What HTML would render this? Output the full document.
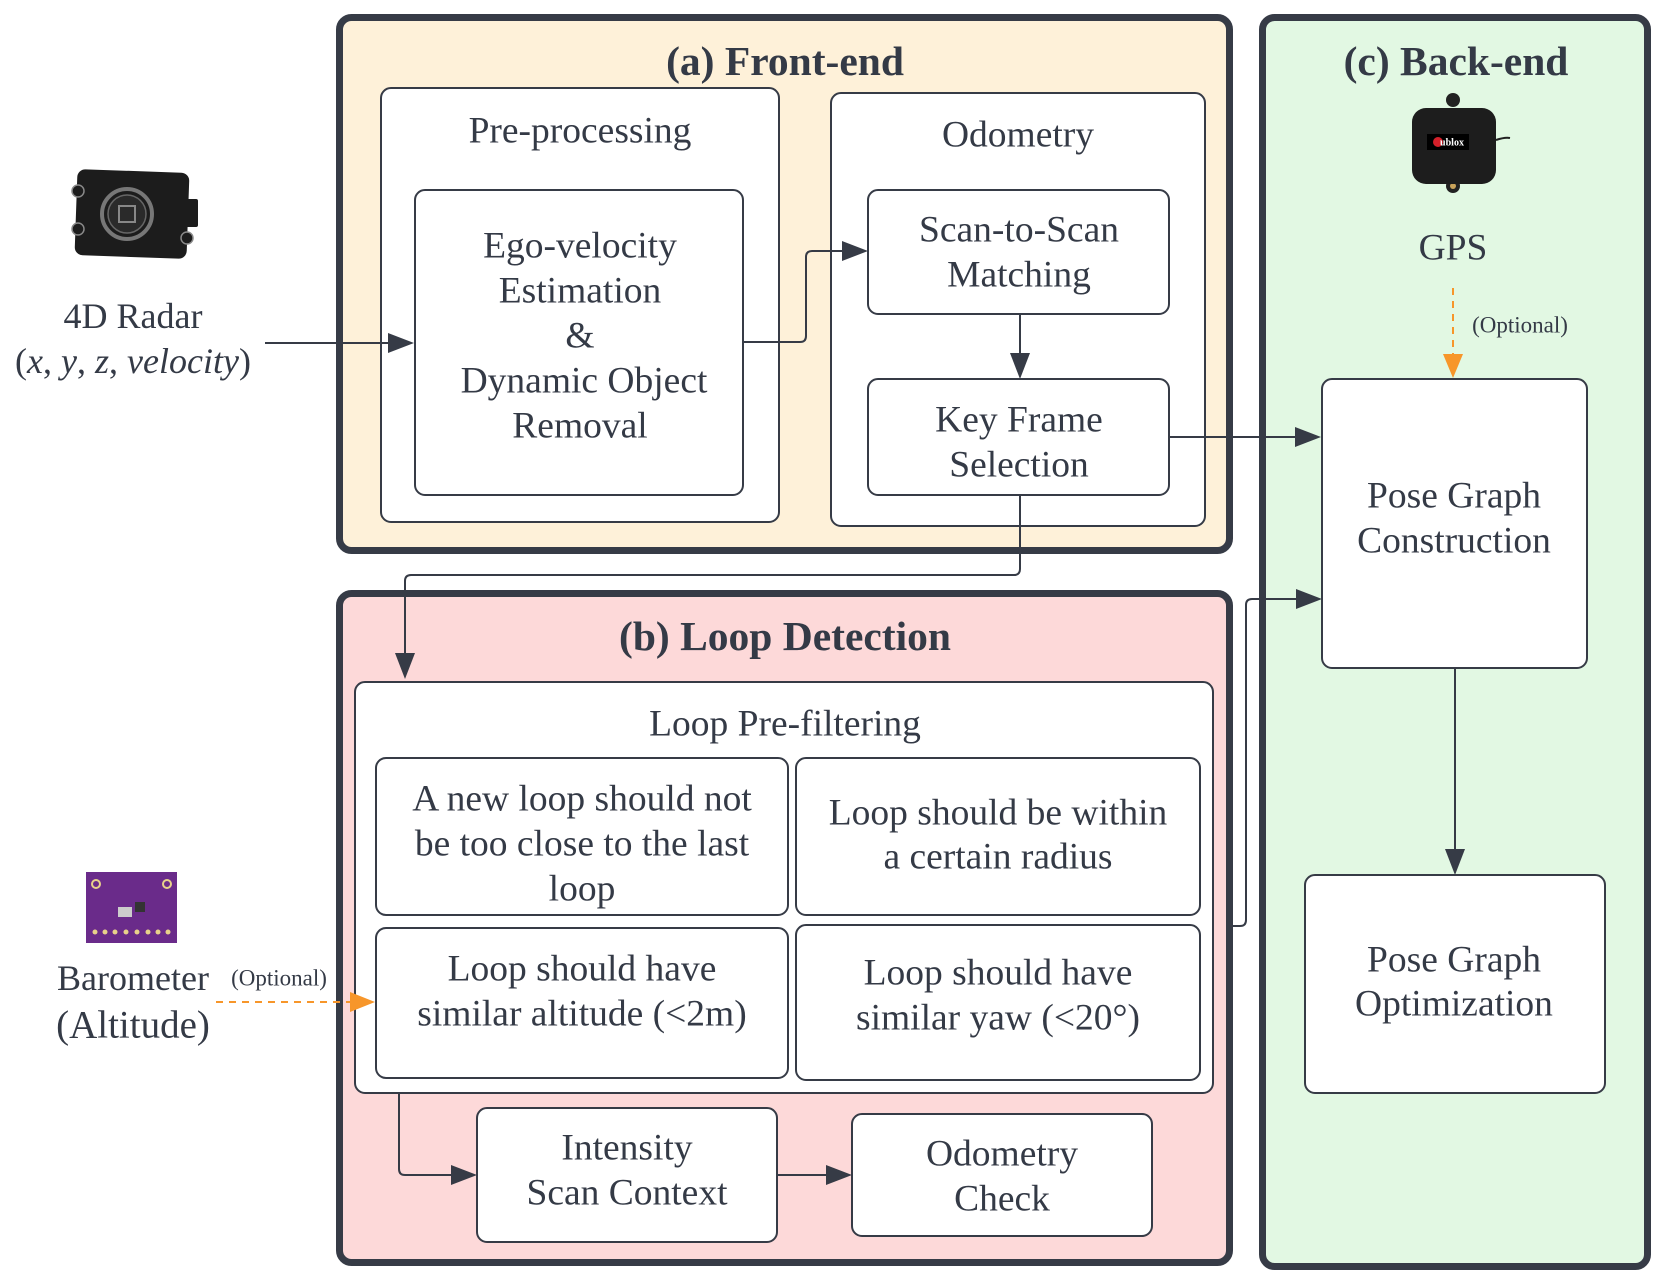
<!DOCTYPE html>
<html><head><meta charset="utf-8"><style>
html,body{margin:0;padding:0;background:#fff;}
svg{display:block;}
text{font-family:"Liberation Serif",serif;fill:#343a46;}
</style></head><body>
<svg width="1665" height="1281" viewBox="0 0 1665 1281" xmlns="http://www.w3.org/2000/svg">
<!-- big containers -->
<rect x="339.5" y="17.5" width="890" height="533" rx="12" fill="#fef1d9" stroke="#363b46" stroke-width="7"/>
<rect x="339.5" y="593.5" width="890" height="669" rx="12" fill="#fdd9d9" stroke="#363b46" stroke-width="7"/>
<rect x="1262.5" y="17.5" width="385" height="1249" rx="12" fill="#e2f8e3" stroke="#363b46" stroke-width="7"/>

<g fill="#fff" stroke="#363b46" stroke-width="2">
<rect x="381" y="88" width="398" height="434" rx="10"/>
<rect x="415" y="190" width="328" height="305" rx="10"/>
<rect x="831" y="93" width="374" height="433" rx="10"/>
<rect x="868" y="190" width="301" height="124" rx="10"/>
<rect x="868" y="379" width="301" height="116" rx="10"/>
<rect x="1322" y="379" width="265" height="289" rx="10"/>
<rect x="1305" y="875" width="300" height="218" rx="10"/>
<rect x="355" y="682" width="858" height="411" rx="10"/>
<rect x="376" y="758" width="412" height="157" rx="10"/>
<rect x="796" y="758" width="404" height="157" rx="10"/>
<rect x="376" y="928" width="412" height="150" rx="10"/>
<rect x="796" y="925" width="404" height="155" rx="10"/>
<rect x="477" y="1108" width="300" height="134" rx="10"/>
<rect x="852" y="1114" width="300" height="122" rx="10"/>
</g>

<!-- connectors -->
<g fill="none" stroke="#363b46" stroke-width="2">
<path d="M265 343 H388"/>
<path d="M743 342 H800 Q806 342 806 336 V257 Q806 251 812 251 H842"/>
<path d="M1020 314 V353"/>
<path d="M1169 437 H1295"/>
<path d="M1020 495 V569 Q1020 575 1014 575 H411 Q405 575 405 581 V653"/>
<path d="M1229 926 H1240 Q1246 926 1246 920 V605 Q1246 599 1252 599 H1296"/>
<path d="M1455 668 V849"/>
<path d="M399 1093 V1169 Q399 1175 405 1175 H451"/>
<path d="M777 1175 H826"/>
</g>
<g fill="#363b46">
<polygon points="388,333 414,343 388,353"/>
<polygon points="842,241 868,251 842,261"/>
<polygon points="1010,353 1020,379 1030,353"/>
<polygon points="1295,427 1321,437 1295,447"/>
<polygon points="395,653 405,679 415,653"/>
<polygon points="1296,589 1322,599 1296,609"/>
<polygon points="1445,849 1455,875 1465,849"/>
<polygon points="451,1165 477,1175 451,1185"/>
<polygon points="826,1165 852,1175 826,1185"/>
</g>
<!-- dashed optional -->
<g stroke="#f7962a" stroke-width="2" stroke-dasharray="7,6" fill="none">
<path d="M1453 288 V356"/>
<path d="M216 1002 H350"/>
</g>
<g fill="#f7962a">
<polygon points="1443,354 1453,378 1463,354"/>
<polygon points="350,992 375,1002 350,1012"/>
</g>

<!-- titles -->
<g font-weight="bold" font-size="41.5" text-anchor="middle" dominant-baseline="central">
<text x="785" y="61">(a) Front-end</text>
<text x="1456" y="61">(c) Back-end</text>
<text x="785" y="636">(b) Loop Detection</text>
</g>
<g font-size="37.5" text-anchor="middle" dominant-baseline="central">
<text x="580" y="131">Pre-processing</text>
<text x="1018" y="135">Odometry</text>
<text x="580" y="246">Ego-velocity</text>
<text x="580" y="291">Estimation</text>
<text x="580" y="336">&amp;</text>
<text x="584" y="381">Dynamic Object</text>
<text x="580" y="426">Removal</text>
<text x="1019" y="230">Scan-to-Scan</text>
<text x="1019" y="275">Matching</text>
<text x="1019" y="420">Key Frame</text>
<text x="1019" y="465">Selection</text>
<text x="1454" y="496">Pose Graph</text>
<text x="1454" y="541">Construction</text>
<text x="1454" y="960">Pose Graph</text>
<text x="1454" y="1004">Optimization</text>
<text x="1453" y="248">GPS</text>
<text x="785" y="724">Loop Pre-filtering</text>
<text x="582" y="799">A new loop should not</text>
<text x="582" y="844">be too close to the last</text>
<text x="582" y="889">loop</text>
<text x="998" y="813">Loop should be within</text>
<text x="998" y="857">a certain radius</text>
<text x="582" y="969">Loop should have</text>
<text x="582" y="1014">similar altitude (&lt;2m)</text>
<text x="998" y="973">Loop should have</text>
<text x="998" y="1018">similar yaw (&lt;20°)</text>
<text x="627" y="1148">Intensity</text>
<text x="627" y="1193">Scan Context</text>
<text x="1002" y="1154">Odometry</text>
<text x="1002" y="1199">Check</text>
<text x="133" y="316" font-size="36">4D Radar</text>
<text x="133" y="361" font-size="36">(<tspan font-style="italic">x</tspan>, <tspan font-style="italic">y</tspan>, <tspan font-style="italic">z</tspan>, <tspan font-style="italic">velocity</tspan>)</text>
<text x="133" y="978" font-size="36">Barometer</text>
<text x="133" y="1025" font-size="39">(Altitude)</text>
<text x="1520" y="325" font-size="23">(Optional)</text>
<text x="279" y="978" font-size="23">(Optional)</text>
</g>

<!-- radar icon -->
<g>
<rect x="76" y="171" width="112" height="86" rx="8" fill="#1c1c1c" transform="rotate(2 132 214)"/>
<rect x="183" y="199" width="15" height="28" rx="2" fill="#1c1c1c"/>
<circle cx="78" cy="191" r="6" fill="#1c1c1c" stroke="#888" stroke-width="1.5"/>
<circle cx="78" cy="229" r="6" fill="#1c1c1c" stroke="#888" stroke-width="1.5"/>
<circle cx="187" cy="238" r="6" fill="#1c1c1c" stroke="#888" stroke-width="1.5"/>
<circle cx="127" cy="214" r="25" fill="none" stroke="#777" stroke-width="4"/>
<circle cx="127" cy="214" r="19" fill="#2a2a2a" stroke="#666" stroke-width="1.5"/>
<rect x="119" y="206" width="16" height="16" fill="none" stroke="#888" stroke-width="2"/>
</g>
<!-- gps icon -->
<g>
<circle cx="1453" cy="100" r="7" fill="#222"/>
<circle cx="1453" cy="186" r="7" fill="#222"/>
<circle cx="1453" cy="186" r="3" fill="#c9a35a"/>
<rect x="1412" y="108" width="84" height="76" rx="14" fill="#1d1d1d"/>
<path d="M1496 140 Q1505 137 1510 138" stroke="#222" stroke-width="2" fill="none"/>
<rect x="1427" y="134" width="42" height="16" fill="#000"/>
<circle cx="1438" cy="142" r="5" fill="#d4202a"/>
<text x="1452" y="143" font-family="Liberation Sans,sans-serif" font-size="10" font-weight="bold" text-anchor="middle" dominant-baseline="central" style="fill:#fff">ublox</text>
</g>
<!-- barometer icon -->
<g>
<rect x="86" y="872" width="91" height="71" fill="#6a2b8a"/>
<circle cx="96" cy="884" r="4" fill="none" stroke="#e8d28a" stroke-width="2"/>
<circle cx="167" cy="884" r="4" fill="none" stroke="#e8d28a" stroke-width="2"/>
<rect x="118" y="907" width="14" height="10" fill="#ccc"/>
<rect x="135" y="902" width="10" height="10" fill="#333"/>
<g fill="#e8d28a"><circle cx="95" cy="932" r="2.5"/><circle cx="105" cy="932" r="2.5"/><circle cx="115" cy="932" r="2.5"/><circle cx="126" cy="932" r="2.5"/><circle cx="137" cy="932" r="2.5"/><circle cx="148" cy="932" r="2.5"/><circle cx="158" cy="932" r="2.5"/><circle cx="168" cy="932" r="2.5"/></g>
</g>
</svg>
</body></html>
